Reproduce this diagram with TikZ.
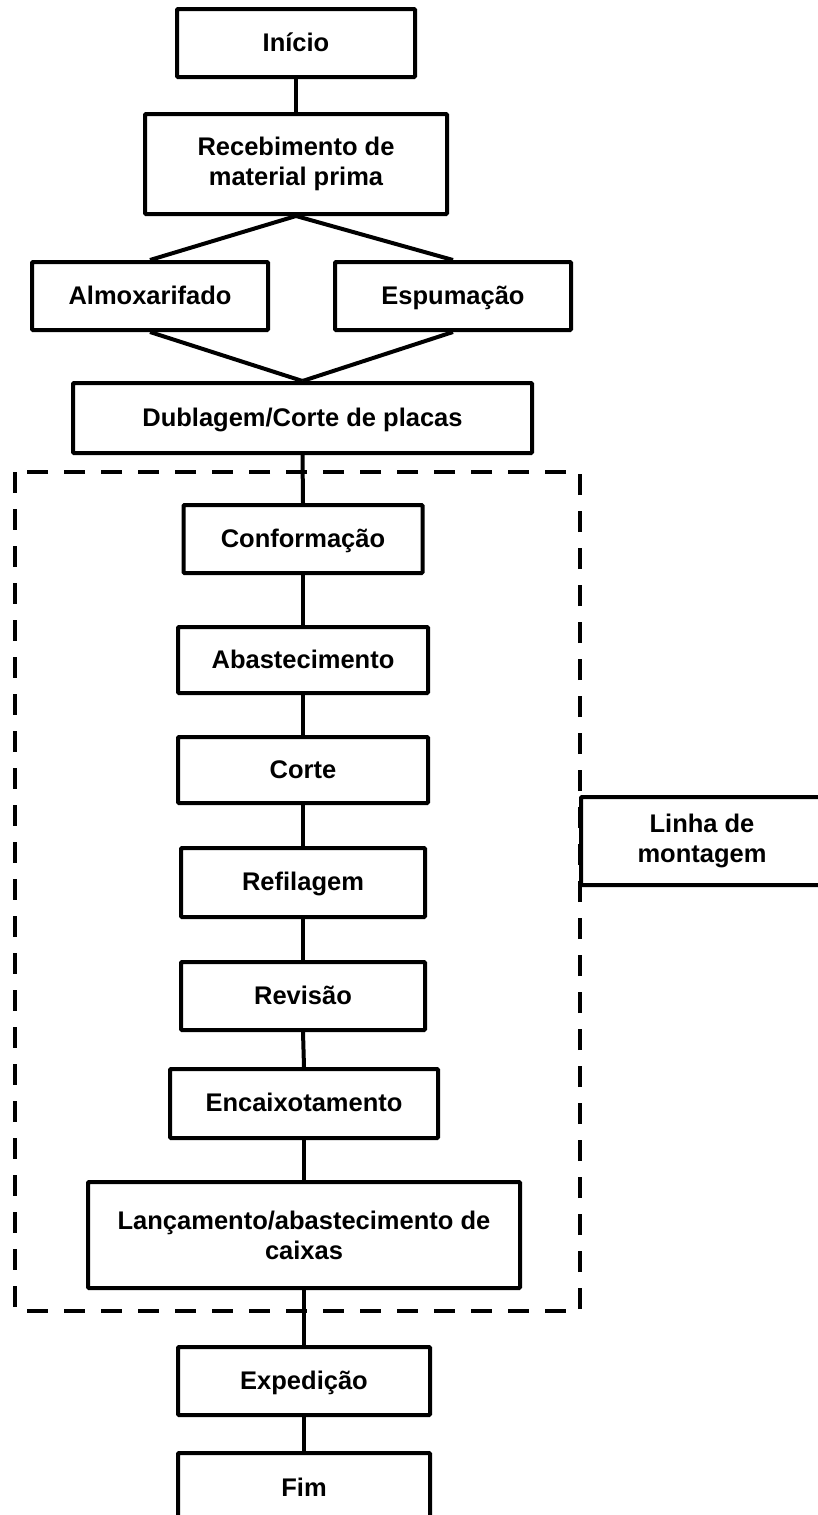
\documentclass[tikz,border=0pt]{standalone}
\usepackage{fontspec}
\setmainfont{Liberation Sans}
\begin{document}
\begin{tikzpicture}[x=1pt,y=-1pt,
  stepbox/.style={draw=black, line width=4pt, rounded corners=1pt, fill=white,
    align=center, inner sep=0pt,
    font=\fontsize{25.5}{30}\selectfont\bfseries},
  oneline/.style={stepbox, text height=20pt, text depth=4pt},
  link/.style={line width=4pt},
  frame/.style={line width=4.5pt, dash pattern=on 21pt off 16pt}]
\useasboundingbox (0,0) rectangle (817,1515);

\draw[frame] (15,472) rectangle (580,1311);

\node[oneline, minimum width=238pt, minimum height=68pt] (inicio) at (296,43) {Início};
\node[stepbox, minimum width=302pt, minimum height=100pt] (receb) at (296,164) {Recebimento de\\material prima};
\node[oneline, minimum width=236pt, minimum height=68pt] (almox) at (150,296) {Almoxarifado};
\node[oneline, minimum width=236pt, minimum height=68pt] (espum) at (453,296) {Espumação};
\node[oneline, minimum width=459pt, minimum height=70pt] (dubl) at (302.5,418) {Dublagem/Corte de placas};
\node[oneline, minimum width=239pt, minimum height=68pt] (conf) at (303,539) {Conformação};
\node[oneline, minimum width=250pt, minimum height=66pt] (abast) at (303,660) {Abastecimento};
\node[oneline, minimum width=250pt, minimum height=66pt] (corte) at (303,770) {Corte};
\node[oneline, minimum width=244pt, minimum height=69pt] (refil) at (303,882.5) {Refilagem};
\node[oneline, minimum width=244pt, minimum height=68pt] (revis) at (303,996) {Revisão};
\node[oneline, minimum width=268pt, minimum height=69pt] (encaix) at (304,1103.5) {Encaixotamento};
\node[stepbox, minimum width=432pt, minimum height=106pt] (lanc) at (304,1235) {Lançamento/abastecimento de\\caixas};
\node[oneline, minimum width=252pt, minimum height=68pt] (exped) at (304,1381) {Expedição};
\node[oneline, minimum width=252pt, minimum height=70pt] (fim) at (304,1488) {Fim};
\node[stepbox, minimum width=242pt, minimum height=88pt] (linha) at (702,841) {Linha de\\montagem};

\draw[link] (inicio.south) -- (receb.north);
\draw[link] (receb.south) -- (almox.north);
\draw[link] (receb.south) -- (espum.north);
\draw[link] (almox.south) -- (dubl.north);
\draw[link] (espum.south) -- (dubl.north);
\draw[link] (dubl.south) -- (conf.north);
\draw[link] (conf.south) -- (abast.north);
\draw[link] (abast.south) -- (corte.north);
\draw[link] (corte.south) -- (refil.north);
\draw[link] (refil.south) -- (revis.north);
\draw[link] (revis.south) -- (encaix.north);
\draw[link] (encaix.south) -- (lanc.north);
\draw[link] (lanc.south) -- (exped.north);
\draw[link] (exped.south) -- (fim.north);
\end{tikzpicture}
\end{document}
